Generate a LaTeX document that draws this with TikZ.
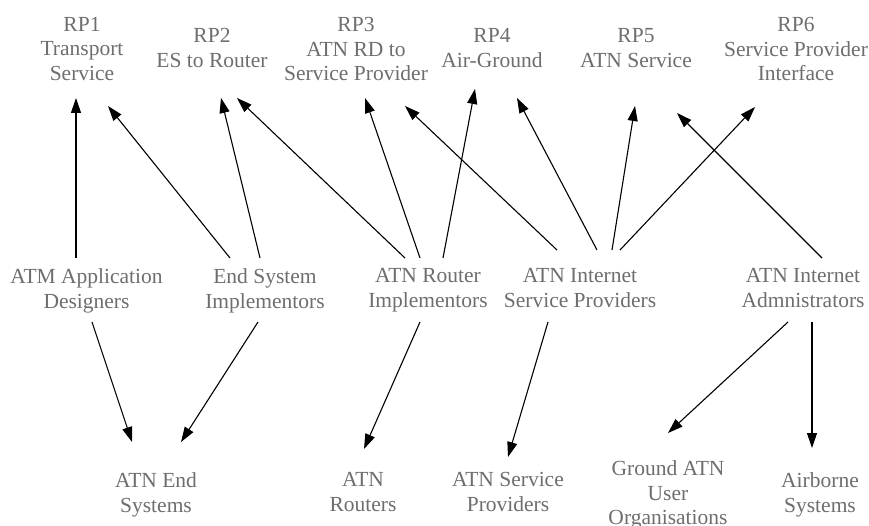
\documentclass[tikz,border=0pt]{standalone}
\usepackage{fontspec}
\setmainfont{Liberation Serif}
\usetikzlibrary{arrows.meta}
\definecolor{txt}{RGB}{110,110,110}
\begin{document}
\begin{tikzpicture}[x=1pt,y=-1pt,
  lbl/.style={anchor=north, inner sep=0pt, align=center, text=txt, font=\fontsize{21.5}{24.6}\selectfont},
  arr/.style={draw=black, line width=1.1pt, -{Triangle[length=15pt,width=10pt]}}]
\useasboundingbox[fill=white] (0,0) rectangle (869,526);
% top row
\node[lbl] (rp1) at (82,17) {RP1\\Transport\\Service};
\node[lbl] (rp2) at (212,28.5) {RP2\\ES to Router};
\node[lbl] (rp3) at (356,17) {RP3\\ATN RD to\\Service Provider};
\node[lbl] (rp4) at (492,28.5) {RP4\\Air-Ground};
\node[lbl] (rp5) at (636,28.5) {RP5\\ATN Service};
\node[lbl] (rp6) at (796,17) {RP6\\Service Provider\\Interface};
% middle row
\node[lbl] (atmd) at (86.5,268.5) {ATM Application\\Designers};
\node[lbl] (esi) at (265,268.5) {End System\\Implementors};
\node[lbl] (ari) at (428,268.5) {ATN Router\\Implementors};
\node[lbl] (aisp) at (580,268.5) {ATN Internet\\Service Providers};
\node[lbl] (aia) at (803,268.5) {ATN Internet\\Admnistrators};
% bottom row
\node[lbl] (aes) at (156,472.5) {ATN End\\Systems};
\node[lbl] (rout) at (363,472.5) {ATN\\Routers};
\node[lbl] (asp) at (508,472.5) {ATN Service\\Providers};
\node[lbl] (gnd) at (668,460.5) {Ground ATN\\User\\Organisations};
\node[lbl] (air) at (820,472.5) {Airborne\\Systems};
% upward edges
\draw[arr] ([shift={(-10.5,-10.5)}]atmd.north) -- ([shift={(-6,81)}]rp1.north);
\draw[arr] ([shift={(-35,-10.5)}]esi.north) -- ([shift={(26,89)}]rp1.north);
\draw[arr] ([shift={(-5,-10.5)}]esi.north) -- ([shift={(9,69.5)}]rp2.north);
\draw[arr] ([shift={(-23,-10.5)}]ari.north) -- ([shift={(25,69.5)}]rp2.north);
\draw[arr] ([shift={(-8,-10.5)}]ari.north) -- ([shift={(9,81)}]rp3.north);
\draw[arr] ([shift={(15,-10.5)}]ari.north) -- ([shift={(-17,60.5)}]rp4.north);
\draw[arr] ([shift={(-23,-18.5)}]aisp.north) -- ([shift={(49,89)}]rp3.north);
\draw[arr] ([shift={(17,-18.5)}]aisp.north) -- ([shift={(25,69.5)}]rp4.north);
\draw[arr] ([shift={(32,-18.5)}]aisp.north) -- ([shift={(-1,77.5)}]rp5.north);
\draw[arr] ([shift={(40,-18.5)}]aisp.north) -- ([shift={(-41,90)}]rp6.north);
\draw[arr] ([shift={(19,-10.5)}]aia.north) -- ([shift={(41,84.5)}]rp5.north);
% downward edges
\draw[arr] ([shift={(5.5,53.5)}]atmd.north) -- ([shift={(-24,-30.5)}]aes.north);
\draw[arr] ([shift={(-7,53.5)}]esi.north) -- ([shift={(25,-30.5)}]aes.north);
\draw[arr] ([shift={(-8,53.5)}]ari.north) -- ([shift={(1,-23.5)}]rout.north);
\draw[arr] ([shift={(-32,53.5)}]aisp.north) -- ([shift={(0,-15.5)}]asp.north);
\draw[arr] ([shift={(-15,53.5)}]aia.north) -- ([shift={(0,-27.5)}]gnd.north);
\draw[arr] ([shift={(9,53.5)}]aia.north) -- ([shift={(-8,-24.5)}]air.north);
\end{tikzpicture}
\end{document}
